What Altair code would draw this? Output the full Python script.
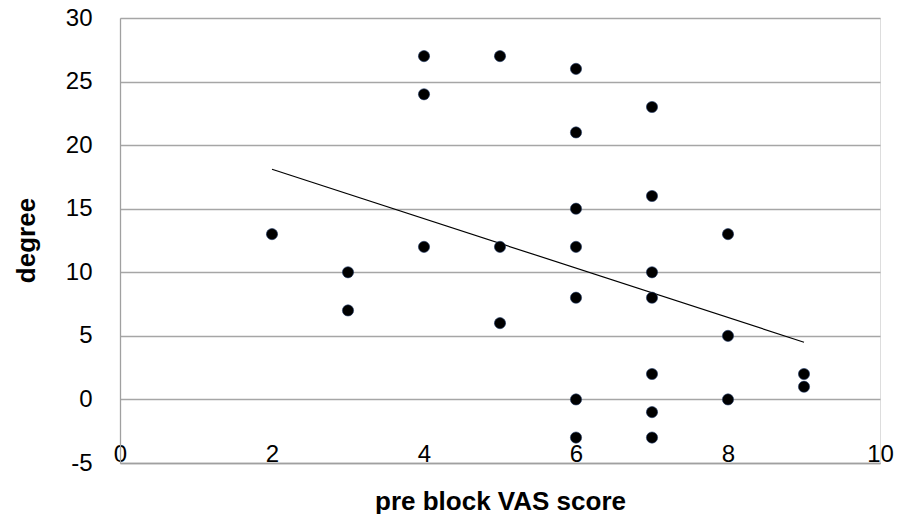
import altair as alt
import pandas as pd

# scatter data
vas = [2, 3, 3, 4, 4, 4, 5, 5, 5,
       6, 6, 6, 6, 6, 6, 6,
       7, 7, 7, 7, 7, 7, 7,
       8, 8, 8, 9, 9]
degree = [13, 10, 7, 27, 24, 12, 27, 12, 6,
          26, 21, 15, 12, 8, 0, -3,
          23, 16, 10, 8, 2, -1, -3,
          13, 5, 0, 2, 1]

# linear trend line end points
trend_x = [2, 9]
trend_y = [18.1, 4.5]

x_ticks = [0, 2, 4, 6, 8, 10]
y_ticks = [-5, 0, 5, 10, 15, 20, 25, 30]

pts = pd.DataFrame({"x": vas, "y": degree})
trend = pd.DataFrame({"x": trend_x, "y": trend_y})

FONT = "Liberation Sans"

xs = alt.Scale(domain=[0, 10], nice=False, zero=False)
ys = alt.Scale(domain=[-5, 30], nice=False, zero=False)

x_axis = alt.Axis(
    values=x_ticks, grid=False, ticks=False, tickSize=0,
    domainColor="#a0a0a0", domainWidth=1.3,
    labelExpr="toString(datum.value)",
    labelFont=FONT, labelFontSize=24, labelColor="#000000",
    labelBaseline="alphabetic", labelPadding=-2, labelFlush=False,
    title="pre block VAS score", titleFont=FONT, titleFontSize=26,
    titleFontWeight="bold", titleColor="#000000",
    titleBaseline="alphabetic", titleY=46, titleAnchor="middle",
)
y_axis = alt.Axis(
    values=y_ticks, grid=True, gridColor="#a6a6a6", gridWidth=1.3,
    ticks=False, tickSize=0, domainColor="#a0a0a0", domainWidth=1.3,
    labelExpr="toString(datum.value)",
    labelFont=FONT, labelFontSize=24, labelColor="#000000",
    labelPadding=28, labelFlush=False,
    title="degree", titleFont=FONT, titleFontSize=26,
    titleFontWeight="bold", titleColor="#000000",
    titleAngle=270, titleBaseline="alphabetic", titleX=-86, titleY=222,
    titleAlign="center",
)

points = alt.Chart(pts).mark_circle(
    size=125, color="#000000", opacity=1, stroke="#1f3864", strokeWidth=0.6
).encode(
    x=alt.X("x:Q", scale=xs, axis=x_axis),
    y=alt.Y("y:Q", scale=ys, axis=y_axis),
)

line = alt.Chart(trend).mark_line(color="#000000", strokeWidth=1.2).encode(
    x=alt.X("x:Q", scale=xs),
    y=alt.Y("y:Q", scale=ys),
)

chart = alt.layer(line, points).properties(
    width=760, height=445,
    autosize=alt.AutoSizeParams(type="none"),
    padding={"left": 112, "top": 10, "right": 15, "bottom": 51},
).configure_view(stroke=None).configure(background="#ffffff")

chart.save("out.html", embed_options={"renderer": "svg", "actions": False})
